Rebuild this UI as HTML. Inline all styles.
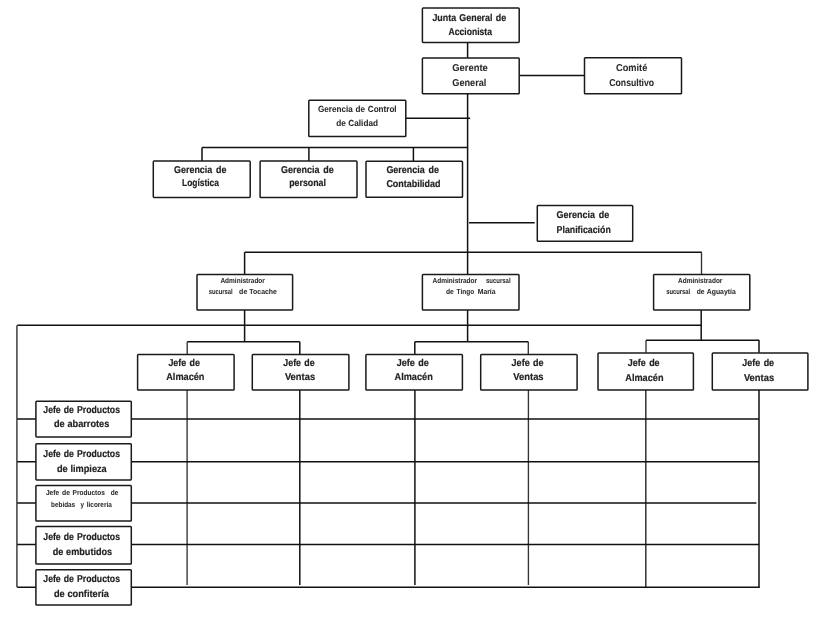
<!DOCTYPE html>
<html lang="es">
<head>
<meta charset="utf-8">
<title>Organigrama</title>
<style>
html,body{margin:0;padding:0;background:#fff;}
body{width:820px;height:618px;overflow:hidden;}
svg{display:block;filter:grayscale(1);}
text{font-family:"Liberation Sans",sans-serif;font-weight:bold;fill:#222;white-space:pre;text-rendering:geometricPrecision;stroke:#222;stroke-width:0.18px;stroke-linejoin:round;}
text.m{stroke-width:0.06px;fill:#2a2a2a;stroke:#2a2a2a;}
text.c{stroke-width:0.06px;fill:#2a2a2a;stroke:#2a2a2a;}
text.s{stroke-width:0.05px;stroke:#2a2a2a;fill:#2a2a2a;word-spacing:0;}
rect.b{fill:#fff;stroke:#1a1a1a;stroke-width:1.5;}
</style>
</head>
<body>
<svg width="820" height="618" viewBox="0 0 820 618">
<rect x="0" y="0" width="820" height="618" fill="#fff"/>
<g>
<g fill="none" stroke-linecap="butt">
<line x1="467.6" y1="42.3" x2="467.6" y2="57.8" stroke="#111" stroke-width="1.5"/>
<line x1="467.6" y1="93.7" x2="467.6" y2="274.3" stroke="#111" stroke-width="1.5"/>
<line x1="467.6" y1="310.0" x2="467.6" y2="341.9" stroke="#111" stroke-width="1.5"/>
<line x1="519.2" y1="75.5" x2="584.5" y2="75.5" stroke="#111" stroke-width="1.5"/>
<line x1="405.8" y1="118.3" x2="470.2" y2="118.3" stroke="#111" stroke-width="1.5"/>
<line x1="202.0" y1="147.4" x2="467.6" y2="147.4" stroke="#111" stroke-width="1.5"/>
<line x1="202.0" y1="147.4" x2="202.0" y2="161.0" stroke="#111" stroke-width="1.5"/>
<line x1="308.9" y1="147.4" x2="308.9" y2="161.0" stroke="#111" stroke-width="1.5"/>
<line x1="413.4" y1="147.4" x2="413.4" y2="161.0" stroke="#111" stroke-width="1.5"/>
<line x1="469.0" y1="222.8" x2="534.7" y2="222.8" stroke="#111" stroke-width="1.5"/>
<line x1="244.6" y1="252.3" x2="701.8" y2="252.3" stroke="#111" stroke-width="1.5"/>
<line x1="244.6" y1="252.3" x2="244.6" y2="274.3" stroke="#111" stroke-width="1.5"/>
<line x1="701.5" y1="252.3" x2="701.5" y2="274.3" stroke="#333" stroke-width="1.35"/>
<line x1="244.6" y1="310.0" x2="244.6" y2="341.8" stroke="#111" stroke-width="1.5"/>
<line x1="701.2" y1="310.0" x2="701.2" y2="340.2" stroke="#111" stroke-width="1.5"/>
<line x1="17.2" y1="325.2" x2="701.3" y2="325.2" stroke="#111" stroke-width="1.5"/>
<line x1="187.2" y1="341.8" x2="299.8" y2="341.8" stroke="#111" stroke-width="1.5"/>
<line x1="187.2" y1="341.8" x2="187.2" y2="354.5" stroke="#333" stroke-width="1.35"/>
<line x1="299.8" y1="341.8" x2="299.8" y2="354.5" stroke="#111" stroke-width="1.5"/>
<line x1="414.8" y1="341.8" x2="528.3" y2="341.8" stroke="#111" stroke-width="1.5"/>
<line x1="414.8" y1="341.8" x2="414.8" y2="354.5" stroke="#111" stroke-width="1.5"/>
<line x1="528.3" y1="341.8" x2="528.3" y2="354.5" stroke="#333" stroke-width="1.35"/>
<line x1="646.0" y1="340.2" x2="759.2" y2="340.2" stroke="#111" stroke-width="1.5"/>
<line x1="646.0" y1="340.2" x2="646.0" y2="352.8" stroke="#333" stroke-width="1.35"/>
<line x1="759.0" y1="340.2" x2="759.0" y2="352.8" stroke="#111" stroke-width="1.5"/>
<line x1="187.1" y1="389.9" x2="187.1" y2="585.0" stroke="#333" stroke-width="1.35"/>
<line x1="299.8" y1="389.9" x2="299.8" y2="585.0" stroke="#111" stroke-width="1.5"/>
<line x1="414.9" y1="389.9" x2="414.9" y2="585.0" stroke="#111" stroke-width="1.5"/>
<line x1="528.4" y1="389.9" x2="528.4" y2="585.0" stroke="#333" stroke-width="1.35"/>
<line x1="645.8" y1="389.9" x2="645.8" y2="587.2" stroke="#333" stroke-width="1.5"/>
<line x1="759.0" y1="389.9" x2="759.0" y2="587.8" stroke="#111" stroke-width="1.5"/>
<line x1="16.9" y1="325.2" x2="16.9" y2="587.2" stroke="#5c5c5c" stroke-width="1.8"/>
<line x1="17.2" y1="418.9" x2="759.0" y2="418.9" stroke="#111" stroke-width="1.5"/>
<line x1="17.2" y1="461.8" x2="759.0" y2="461.8" stroke="#111" stroke-width="1.5"/>
<line x1="17.2" y1="503.0" x2="756.4" y2="503.0" stroke="#111" stroke-width="1.5"/>
<line x1="17.2" y1="544.4" x2="759.0" y2="544.4" stroke="#111" stroke-width="1.5"/>
<line x1="17.2" y1="587.2" x2="759.6" y2="587.2" stroke="#111" stroke-width="1.5"/>
</g>
<g>
<rect class="b" x="422.4" y="7.9" width="96.8" height="34.5" rx="0.8"/>
<rect class="b" x="422.4" y="57.9" width="96.8" height="35.9" rx="0.8"/>
<rect class="b" x="584.5" y="57.7" width="97.0" height="36.1" rx="0.8"/>
<rect class="b" x="308.8" y="100.2" width="97.0" height="36.3" rx="0.8"/>
<rect class="b" x="153.3" y="161.1" width="96.9" height="36.3" rx="0.8"/>
<rect class="b" x="260.1" y="161.1" width="96.9" height="36.4" rx="0.8"/>
<rect class="b" x="366.0" y="161.3" width="96.5" height="35.9" rx="0.8"/>
<rect class="b" x="537.3" y="205.4" width="95.4" height="35.8" rx="0.8"/>
<rect class="b" x="197.0" y="274.4" width="95.6" height="35.7" rx="0.8"/>
<rect class="b" x="422.4" y="274.4" width="96.6" height="35.7" rx="0.8"/>
<rect class="b" x="653.6" y="274.4" width="96.2" height="35.7" rx="0.8"/>
<rect class="b" x="137.6" y="354.6" width="96.5" height="35.4" rx="0.8"/>
<rect class="b" x="252.3" y="354.6" width="96.6" height="35.4" rx="0.8"/>
<rect class="b" x="365.9" y="354.6" width="96.5" height="35.4" rx="0.8"/>
<rect class="b" x="480.7" y="354.6" width="96.4" height="35.4" rx="0.8"/>
<rect class="b" x="598.0" y="352.9" width="95.4" height="37.1" rx="0.8"/>
<rect class="b" x="712.3" y="352.9" width="95.6" height="37.1" rx="0.8"/>
<rect class="b" x="35.9" y="401.2" width="95.4" height="35.7" rx="0.8"/>
<rect class="b" x="35.9" y="443.8" width="95.4" height="36.1" rx="0.8"/>
<rect class="b" x="35.9" y="485.5" width="95.4" height="35.6" rx="0.8"/>
<rect class="b" x="35.9" y="526.6" width="95.4" height="37.5" rx="0.8"/>
<rect class="b" x="35.9" y="569.8" width="95.4" height="35.2" rx="0.8"/>
</g>
<g>
<text class="a" x="432.4" y="21.0" font-size="10.0" textLength="73.7" lengthAdjust="spacingAndGlyphs" style="word-spacing:0.8px">Junta General de</text>
<text class="a" x="448.6" y="34.7" font-size="10.0" textLength="43.3" lengthAdjust="spacingAndGlyphs">Accionista</text>
<text class="m" x="452.3" y="70.6" font-size="10.0" textLength="35.5" lengthAdjust="spacingAndGlyphs">Gerente</text>
<text class="m" x="452.3" y="85.5" font-size="10.0" textLength="34.1" lengthAdjust="spacingAndGlyphs">General</text>
<text class="m" x="616.1" y="70.8" font-size="10.0" textLength="31.2" lengthAdjust="spacingAndGlyphs">Comité</text>
<text class="m" x="609.3" y="85.9" font-size="10.0" textLength="44.8" lengthAdjust="spacingAndGlyphs">Consultivo</text>
<text class="c" x="318.0" y="112.0" font-size="8.8" textLength="78.6" lengthAdjust="spacingAndGlyphs" style="word-spacing:0.6px">Gerencia de Control</text>
<text class="c" x="336.3" y="125.7" font-size="8.8" textLength="41.7" lengthAdjust="spacingAndGlyphs" style="word-spacing:0.2px">de Calidad</text>
<text class="a" x="174.1" y="172.7" font-size="10.0" textLength="52.3" lengthAdjust="spacingAndGlyphs" style="word-spacing:1.5px">Gerencia de</text>
<text class="a" x="182.0" y="186.3" font-size="10.0" textLength="37.0" lengthAdjust="spacingAndGlyphs">Logística</text>
<text class="a" x="281.0" y="172.7" font-size="10.0" textLength="52.7" lengthAdjust="spacingAndGlyphs" style="word-spacing:1.5px">Gerencia de</text>
<text class="a" x="289.2" y="186.3" font-size="10.0" textLength="36.7" lengthAdjust="spacingAndGlyphs">personal</text>
<text class="a" x="386.4" y="172.7" font-size="10.0" textLength="52.5" lengthAdjust="spacingAndGlyphs" style="word-spacing:1.5px">Gerencia de</text>
<text class="a" x="386.4" y="186.6" font-size="10.0" textLength="54.1" lengthAdjust="spacingAndGlyphs">Contabilidad</text>
<text class="a" x="556.6" y="218.2" font-size="10.0" textLength="52.7" lengthAdjust="spacingAndGlyphs" style="word-spacing:1.5px">Gerencia de</text>
<text class="a" x="556.6" y="233.0" font-size="10.0" textLength="54.2" lengthAdjust="spacingAndGlyphs">Planificación</text>
<text class="s" x="220.4" y="283.0" font-size="7.3" textLength="44.5" lengthAdjust="spacingAndGlyphs">Administrador</text>
<text class="s" y="294.0" font-size="7.3"><tspan x="208.7" textLength="24.0" lengthAdjust="spacingAndGlyphs">sucursal</tspan> <tspan x="239.1" textLength="8.2" lengthAdjust="spacingAndGlyphs">de</tspan> <tspan x="249.3" textLength="27.7" lengthAdjust="spacingAndGlyphs">Tocache</tspan></text>
<text class="s" y="283.0" font-size="7.3"><tspan x="432.6" textLength="44.5" lengthAdjust="spacingAndGlyphs">Administrador</tspan> <tspan x="485.9" textLength="24.7" lengthAdjust="spacingAndGlyphs">sucursal</tspan></text>
<text class="s" y="294.0" font-size="7.3"><tspan x="445.9" textLength="7.8" lengthAdjust="spacingAndGlyphs">de</tspan> <tspan x="456.6" textLength="17.5" lengthAdjust="spacingAndGlyphs">Tingo</tspan> <tspan x="477.7" textLength="17.9" lengthAdjust="spacingAndGlyphs">María</tspan></text>
<text class="s" x="678.1" y="283.0" font-size="7.3" textLength="44.3" lengthAdjust="spacingAndGlyphs">Administrador</text>
<text class="s" y="294.0" font-size="7.3"><tspan x="666.2" textLength="24.0" lengthAdjust="spacingAndGlyphs">sucursal</tspan> <tspan x="696.7" textLength="7.8" lengthAdjust="spacingAndGlyphs">de</tspan> <tspan x="706.8" textLength="28.9" lengthAdjust="spacingAndGlyphs">Aguaytía</tspan></text>
<text class="a" x="168.4" y="365.9" font-size="10.0" textLength="31.6" lengthAdjust="spacingAndGlyphs" style="word-spacing:1.0px">Jefe de</text>
<text class="a" x="166.2" y="379.5" font-size="10.0" textLength="38.3" lengthAdjust="spacingAndGlyphs">Almacén</text>
<text class="a" x="283.3" y="365.9" font-size="10.0" textLength="31.4" lengthAdjust="spacingAndGlyphs" style="word-spacing:1.0px">Jefe de</text>
<text class="a" x="284.9" y="379.5" font-size="10.0" textLength="30.2" lengthAdjust="spacingAndGlyphs">Ventas</text>
<text class="a" x="396.7" y="365.9" font-size="10.0" textLength="32.0" lengthAdjust="spacingAndGlyphs" style="word-spacing:1.0px">Jefe de</text>
<text class="a" x="394.5" y="379.5" font-size="10.0" textLength="38.3" lengthAdjust="spacingAndGlyphs">Almacén</text>
<text class="a" x="511.6" y="365.9" font-size="10.0" textLength="32.0" lengthAdjust="spacingAndGlyphs" style="word-spacing:1.0px">Jefe de</text>
<text class="a" x="513.3" y="379.5" font-size="10.0" textLength="30.3" lengthAdjust="spacingAndGlyphs">Ventas</text>
<text class="a" x="627.8" y="365.9" font-size="10.0" textLength="31.8" lengthAdjust="spacingAndGlyphs" style="word-spacing:1.0px">Jefe de</text>
<text class="a" x="625.3" y="380.9" font-size="10.0" textLength="38.2" lengthAdjust="spacingAndGlyphs">Almacén</text>
<text class="a" x="742.3" y="365.9" font-size="10.0" textLength="31.8" lengthAdjust="spacingAndGlyphs" style="word-spacing:1.0px">Jefe de</text>
<text class="a" x="743.9" y="380.9" font-size="10.0" textLength="30.2" lengthAdjust="spacingAndGlyphs">Ventas</text>
<text class="a" x="43.3" y="413.0" font-size="10.0" textLength="76.7" lengthAdjust="spacingAndGlyphs" style="word-spacing:0.8px">Jefe de Productos</text>
<text class="a" x="54.0" y="426.7" font-size="10.0" textLength="55.3" lengthAdjust="spacingAndGlyphs" style="word-spacing:0.2px">de abarrotes</text>
<text class="a" x="43.3" y="456.7" font-size="10.0" textLength="76.7" lengthAdjust="spacingAndGlyphs" style="word-spacing:0.8px">Jefe de Productos</text>
<text class="a" x="57.0" y="471.6" font-size="10.0" textLength="49.7" lengthAdjust="spacingAndGlyphs" style="word-spacing:0.2px">de limpieza</text>
<text class="s" y="495.4" font-size="7.3"><tspan x="45.9" textLength="13.2" lengthAdjust="spacingAndGlyphs">Jefe</tspan> <tspan x="62.0" textLength="7.9" lengthAdjust="spacingAndGlyphs">de</tspan> <tspan x="72.6" textLength="32.2" lengthAdjust="spacingAndGlyphs">Productos</tspan> <tspan x="110.8" textLength="7.6" lengthAdjust="spacingAndGlyphs">de</tspan></text>
<text class="s" y="507.0" font-size="7.3"><tspan x="51.1" textLength="24.0" lengthAdjust="spacingAndGlyphs">bebidas</tspan> <tspan x="80.4" textLength="3.5" lengthAdjust="spacingAndGlyphs">y</tspan> <tspan x="86.8" textLength="25.0" lengthAdjust="spacingAndGlyphs">licorería</tspan></text>
<text class="a" x="43.3" y="539.5" font-size="10.0" textLength="76.7" lengthAdjust="spacingAndGlyphs" style="word-spacing:0.8px">Jefe de Productos</text>
<text class="a" x="52.7" y="554.5" font-size="10.0" textLength="59.5" lengthAdjust="spacingAndGlyphs" style="word-spacing:0.2px">de embutidos</text>
<text class="a" x="43.3" y="582.2" font-size="10.0" textLength="76.7" lengthAdjust="spacingAndGlyphs" style="word-spacing:0.8px">Jefe de Productos</text>
<text class="a" x="54.0" y="597.1" font-size="10.0" textLength="54.9" lengthAdjust="spacingAndGlyphs" style="word-spacing:0.2px">de confitería</text>
</g>
</g>
</svg>
</body>
</html>
